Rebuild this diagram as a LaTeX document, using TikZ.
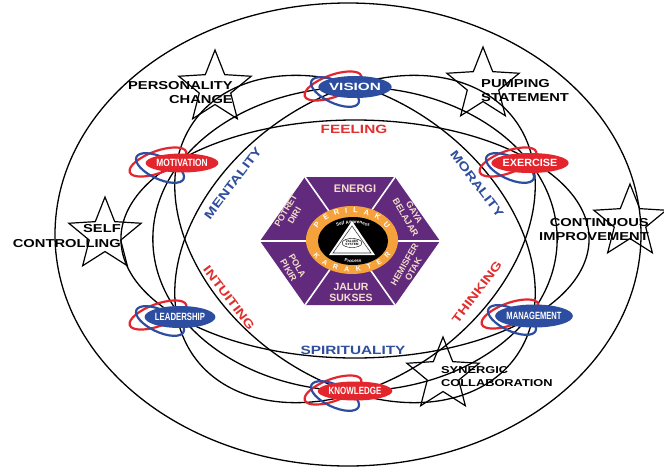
\documentclass[tikz,border=0pt]{standalone}
\usepackage{fontspec}
\setmainfont{Liberation Sans}
\newfontfamily\widefont{Liberation Sans}[FakeStretch=1.28]
\usetikzlibrary{shapes.geometric,decorations.text}
\definecolor{bred}{HTML}{E3262D}
\definecolor{bblue}{HTML}{2C4DA0}
\definecolor{lblue}{HTML}{2F4E9E}
\definecolor{lred}{HTML}{E0312F}
\definecolor{hexpurple}{HTML}{612A7C}
\definecolor{horange}{HTML}{F5A23C}
\definecolor{htext}{HTML}{F4DDCC}
\begin{document}
\begin{tikzpicture}[x=1pt,y=-1pt,
  curve/.style={black,line width=1.3pt},
  starshape/.style={star,star points=5,star point ratio=2.3,draw=black,line width=1.2pt,minimum size=76pt,inner sep=0pt},
  starlbl/.style={font=\widefont\bfseries\fontsize{11.5}{14.5}\selectfont,inner sep=0pt},
  badge/.style={ellipse,minimum width=68pt,minimum height=21pt,inner sep=0pt,text=white,font=\bfseries\fontsize{10.5}{10.5}\selectfont},
  axislbl/.style={font=\widefont\bfseries\fontsize{12}{12}\selectfont,inner sep=0pt},
  hexlbl/.style={text=htext,font=\bfseries\fontsize{9}{10}\selectfont,align=center,inner sep=0pt},
  orbit/.pic={
    \draw[bred,line width=2.2pt,rotate around={20:(-22,-1)}] (-22,-1) ellipse (30 and 11);
    \draw[bblue,line width=2.2pt,rotate around={-25:(-20,5)}] (-20,5) ellipse (26 and 11);
  }
]
\useasboundingbox (0,0) rectangle (664,469);
\fill[white] (0,0) rectangle (664,469);

% outer ellipse
\draw[curve] (348,234.5) ellipse (293 and 231.5);
% three ellipses and circle
\begin{scope}[shift={(355,239)},xscale=1.33]
  \draw[curve] (0,0) ellipse (176 and 119);
  \draw[curve,rotate=60] (0,0) ellipse (176 and 119);
  \draw[curve,rotate=-60] (0,0) ellipse (176 and 119);
  \draw[curve] (0,0) circle (152);
\end{scope}

% axis labels
\node[axislbl,text=lred] (feel) at (354,129) {FEELING};
\node[axislbl,text=lblue] (spir) at (353,350) {SPIRITUALITY};
\node[axislbl,text=lblue,rotate=53] (ment) at (233,183) {MENTALITY};
\node[axislbl,text=lblue,rotate=-53] (moral) at (477,184) {MORALITY};
\node[axislbl,text=lred,rotate=-53] (intu) at (229,298) {INTUITING};
\node[axislbl,text=lred,rotate=53] (think) at (477,292) {THINKING};

% stars
\node[starshape] (spc) at (215,88) {};
\node[starshape] (sps) at (483,85) {};
\node[starshape] (ssc) at (105,235) {};
\node[starshape] (sci) at (630,222) {};
\node[starshape] (ssy) at (443,375) {};
\node[starlbl,anchor=east,align=right] (lpc) at (233,92.5) {PERSONALITY\\CHANGE};
\node[starlbl,anchor=west,align=left] (lps) at (481,90.5) {PUMPING\\STATEMENT};
\node[starlbl,anchor=east,align=right] (lsc) at (121,236) {SELF\\CONTROLLING};
\node[starlbl,anchor=east,align=right] (lci) at (649,229.5) {CONTINUOUS\\IMPROVEMENT};
\node[starlbl,anchor=west,align=left,font=\widefont\bfseries\fontsize{10}{13.5}\selectfont] (lsy) at (441,376.5) {SYNERGIC\\COLLABORATION};

% badges
\pic at (355,87) {orbit};
\node[badge,fill=bblue,minimum width=70pt,minimum height=22pt] (vision) at (355,87) {\scalebox{1.46}[1]{VISION}};
\pic at (180,163) {orbit};
\node[badge,fill=bred,minimum width=62pt,minimum height=19pt] (motivation) at (182,163) {\scalebox{0.8}[1]{MOTIVATION}};
\pic at (530,163) {orbit};
\node[badge,fill=bred,minimum width=72pt,minimum height=20pt] (exercise) at (530,163) {\scalebox{1.03}[1]{EXERCISE}};
\pic at (180,316) {orbit};
\node[badge,fill=bblue,minimum width=64pt,minimum height=22pt] (leadership) at (180,317) {\scalebox{0.74}[1]{LEADERSHIP}};
\pic at (532,315) {orbit};
\node[badge,fill=bblue,minimum width=66pt,minimum height=23pt] (management) at (534,316) {\scalebox{0.72}[1]{MANAGEMENT}};
\pic at (355,391) {orbit};
\node[badge,fill=bred,minimum width=70pt,minimum height=19pt] (knowledge) at (355,391) {\scalebox{0.76}[1]{KNOWLEDGE}};

% central hexagon
\fill[hexpurple] (260,241) -- (305,177) -- (395,177) -- (440,241) -- (395,305) -- (305,305) -- cycle;
\draw[white,line width=1.6pt] (260,241) -- (440,241) (305,177) -- (395,305) (395,177) -- (305,305);
\node[hexlbl,font=\bfseries\fontsize{11}{12}\selectfont] (energi) at (355,189) {ENERGI};
\node[hexlbl,rotate=-60] (gaya) at (410,215) {GAYA\\BELAJAR};
\node[hexlbl,rotate=60] (hemi) at (409,267) {HEMISFER\\OTAK};
\node[hexlbl,font=\bfseries\fontsize{10.5}{11}\selectfont] (jalur) at (351,292) {JALUR\\SUKSES};
\node[hexlbl,rotate=-60] (pola) at (293,268) {POLA\\PIKIR};
\node[hexlbl,rotate=60] (potret) at (290,213) {POTRET\\DIRI};

% centre rings
\fill[horange] (352,240) ellipse (46 and 34);
\fill[black] (353,241) ellipse (35 and 24);
\path[decorate,decoration={text along path,text align={fit to path stretching spaces},
  text={|\bfseries\color{white}\fontsize{7.5}{7.5}\selectfont|P E R I L A K U}}]
  (352,240) ++(205:38 and 27) arc[start angle=205,end angle=335,x radius=38,y radius=27];
\path[decorate,decoration={text along path,text align={fit to path stretching spaces},
  text={|\bfseries\color{white}\fontsize{7}{7}\selectfont|K A R A K T E R}}]
  (352,240) ++(152:44 and 32) arc[start angle=152,end angle=28,x radius=44,y radius=32];
\fill[white] (352,221) -- (375,255) -- (329,255) -- cycle;
\draw[black!75,line width=0.6pt] (352,226) -- (371,253) -- (333,253) -- cycle;
\path[decorate,decoration={text along path,text align=center,
  text={|\bfseries\color{white}\fontsize{4.5}{4.5}\selectfont|Self Awareness}}]
  (353,241) ++(210:27 and 17.5) arc[start angle=210,end angle=330,x radius=27,y radius=17.5];
\path[decorate,decoration={text along path,text align=center,
  text={|\bfseries\color{white}\fontsize{4.5}{4.5}\selectfont|Process}}]
  (353,241) ++(128:31 and 21.5) arc[start angle=128,end angle=52,x radius=31,y radius=21.5];
\node[draw=black,ellipse,inner sep=0.4pt,line width=0.4pt,align=center,
  font=\bfseries\fontsize{3.2}{3.4}\selectfont] (values) at (352,243) {VALUES\\SYSTEM};
\end{tikzpicture}
\end{document}
